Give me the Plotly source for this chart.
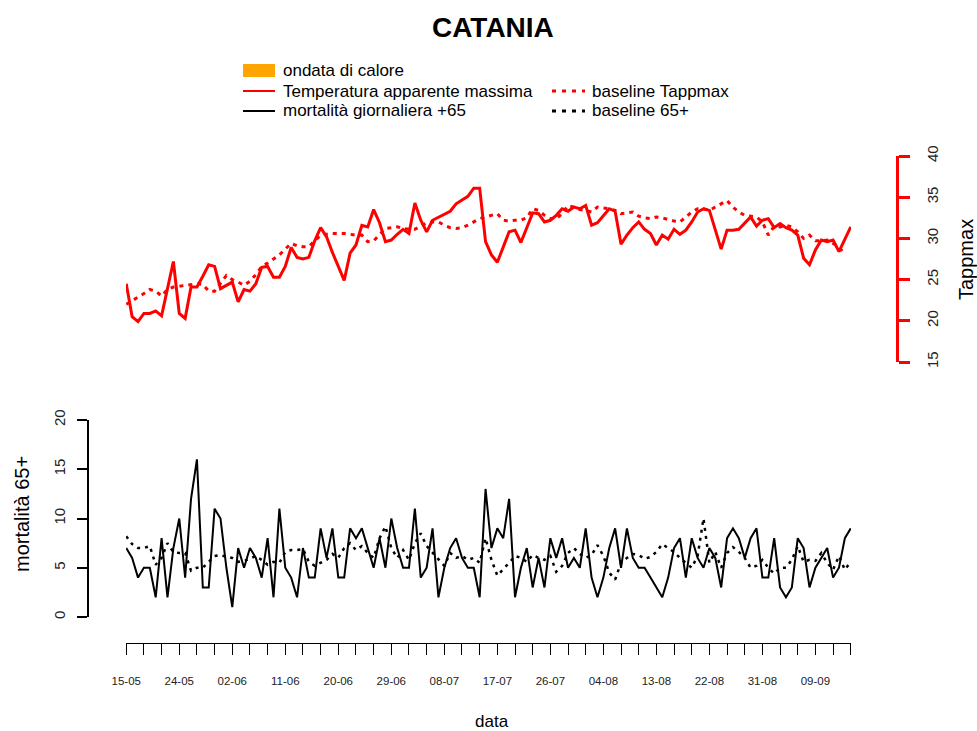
import pandas as pd
import plotly.graph_objects as go

# ---- data -----------------------------------------------------------------
start_date = "2019-05-15"
n_days = 124
dates = pd.date_range(start_date, periods=n_days, freq="D")

tappmax = [
    24.5, 20.5, 19.9, 20.9, 20.9, 21.2, 20.6, 24.0, 27.2, 20.9,
    20.3, 24.1, 24.1, 25.4, 26.8, 26.6, 23.9, 24.3, 24.7, 22.3,
    23.8, 23.6, 24.5, 26.5, 26.6, 25.3, 25.3, 26.6, 28.9, 27.7,
    27.5, 27.7, 29.7, 31.3, 30.2, 28.3, 26.5, 24.9, 28.2, 29.2,
    31.6, 31.4, 33.5, 31.9, 29.6, 29.8, 30.5, 31.1, 30.6, 34.3,
    32.2, 30.8, 32.2, 32.6, 33.0, 33.3, 34.2, 34.7, 35.1, 36.1,
    36.1, 29.6, 28.0, 27.1, 29.0, 30.8, 31.0, 29.5, 31.3, 33.1,
    33.0, 32.0, 32.2, 32.8, 33.6, 33.3, 33.8, 33.6, 34.0, 31.6,
    31.9, 32.7, 33.6, 33.3, 29.3, 30.4, 31.3, 32.0, 31.1, 30.6,
    29.2, 30.4, 29.9, 31.1, 30.5, 31.0, 32.0, 33.2, 33.6, 33.4,
    31.0, 28.7, 31.0, 31.0, 31.1, 31.8, 32.6, 31.5, 32.2, 32.4,
    31.3, 31.8, 31.3, 31.0, 30.4, 27.6, 26.8, 28.6, 29.8, 29.6,
    29.8, 28.4, 30.0, 31.4,
]

baseline_tappmax = [
    22.0, 22.4, 22.9, 23.3, 23.8, 23.6, 23.0, 23.8, 24.1, 24.2,
    24.3, 24.4, 24.5, 24.4, 23.6, 23.6, 24.6, 25.5, 25.0, 24.7,
    24.3, 24.8, 25.6, 26.6, 27.0, 27.5, 28.0, 28.7, 29.4, 29.1,
    29.0, 29.0, 29.7, 30.4, 30.5, 30.6, 30.6, 30.6, 30.5, 30.4,
    30.4, 29.6, 29.7, 30.5, 31.2, 31.3, 31.4, 31.2, 31.1, 31.1,
    31.5, 31.9, 32.0, 32.0, 31.6, 31.3, 31.2, 31.3, 31.6, 32.0,
    32.4, 32.6, 32.8, 33.0, 32.2, 32.1, 32.2, 32.2, 32.5, 33.6,
    33.4, 32.8, 32.4, 32.4, 33.0, 34.0, 33.8, 33.5, 33.4, 33.2,
    33.8, 33.7, 33.6, 33.4, 33.0, 33.1, 33.2, 32.7, 32.5, 32.4,
    32.6, 32.5, 32.3, 32.1, 32.0, 32.6, 33.2, 33.6, 33.6, 33.4,
    33.8, 34.2, 34.6, 33.8, 33.2, 32.8, 32.7, 32.6, 32.0, 30.4,
    31.5, 31.4, 31.6, 31.4, 30.8, 30.0, 30.4, 29.7, 29.7, 29.8,
    29.4, 29.0, 28.0, None,
]

mortality_65 = [
    7, 6, 4, 5, 5, 2, 8, 2, 7, 10,
    4, 12, 16, 3, 3, 11, 10, 5, 1, 7,
    5, 7, 6, 4, 8, 2, 11, 5, 4, 2,
    7, 4, 4, 9, 6, 9, 4, 4, 9, 8,
    9, 7, 5, 8, 5, 10, 7, 5, 5, 11,
    4, 5, 9, 2, 5, 7, 8, 6, 5, 5,
    2, 13, 7, 9, 8, 12, 2, 5, 7, 3,
    6, 3, 8, 6, 8, 5, 6, 5, 9, 4,
    2, 4, 7, 9, 5, 9, 6, 5, 5, 4,
    3, 2, 4, 7, 8, 4, 8, 6, 5, 7,
    6, 3, 8, 9, 8, 6, 8, 9, 4, 4,
    8, 3, 2, 3, 8, 7, 3, 5, 6, 7,
    4, 5, 8, 9,
]

baseline_65 = [
    8.2, 7.4, 7.0, 7.0, 7.2, 5.3, 6.0, 7.5, 6.6, 6.5,
    6.5, 4.7, 5.0, 5.0, 5.6, 6.2, 6.3, 6.1, 6.0, 5.6,
    5.7, 5.9, 6.2, 5.8, 5.3, 5.6, 5.5, 6.6, 6.8, 6.8,
    6.9, 5.6, 5.2, 5.5, 5.8, 6.4, 6.0, 7.0, 7.5, 6.8,
    7.2, 6.5, 6.0, 8.0, 9.2, 7.0, 6.0, 6.8, 5.8, 7.5,
    8.5, 7.2, 6.5, 5.8, 5.2, 6.5, 6.0, 6.2, 5.8, 6.0,
    5.5, 8.0, 5.8, 4.2, 4.8, 5.5, 6.2, 6.0, 5.6, 6.3,
    6.0, 5.8, 6.2, 4.6, 5.2, 6.5, 7.0, 6.4, 6.0, 6.3,
    7.3, 6.2, 4.5, 3.8, 5.5, 6.0, 6.4, 6.3, 5.9, 6.1,
    6.6, 7.4, 7.0, 6.6, 6.0, 5.5, 5.0, 6.2, 10.0, 5.5,
    6.6, 5.0, 6.5, 7.1, 6.6, 6.0, 5.0, 5.2, 5.8, 5.0,
    4.4, 5.0, 5.0, 5.8, 7.2, 5.6, 5.8, 5.7, 6.5, 5.5,
    4.8, 6.2, 4.8, 5.6,
]

tapp_ticks = [15, 20, 25, 30, 35, 40]
mort_ticks = [0, 5, 10, 15, 20]

legend_labels = {
    "heatwave": "ondata di calore",
    "tapp": "Temperatura apparente massima",
    "mort": "mortalità giornaliera +65",
    "tapp_base": "baseline Tappmax",
    "mort_base": "baseline 65+",
}

RED = "#FF0000"
BLACK = "#000000"
ORANGE = "#FFA500"
FONT = "Liberation Sans, Arial, sans-serif"

W, H = 977, 731
DAY_MS = 86400000


def px(x):
    return x / W


def py(y):
    return 1 - y / H


# ---- traces ---------------------------------------------------------------
fig = go.Figure()

fig.add_trace(go.Scatter(x=dates, y=tappmax, mode="lines", xaxis="x", yaxis="y2",
                         line=dict(color=RED, width=3), name=legend_labels["tapp"]))
fig.add_trace(go.Scatter(x=dates, y=baseline_tappmax, mode="lines", xaxis="x", yaxis="y2",
                         line=dict(color=RED, width=3, dash="4px,5px"),
                         name=legend_labels["tapp_base"]))
fig.add_trace(go.Scatter(x=dates, y=mortality_65, mode="lines", xaxis="x", yaxis="y",
                         line=dict(color=BLACK, width=2), name=legend_labels["mort"]))
fig.add_trace(go.Scatter(x=dates, y=baseline_65, mode="lines", xaxis="x", yaxis="y",
                         line=dict(color=BLACK, width=2.5, dash="3px,5px"),
                         name=legend_labels["mort_base"]))

# ---- axes -----------------------------------------------------------------
x_start = dates[0] - pd.Timedelta(hours=1)
x_end = dates[-1] + pd.Timedelta(hours=1)

fig.update_layout(
    xaxis=dict(
        domain=[px(126), px(851)], anchor="free", position=py(643),
        type="date", range=[x_start, x_end], automargin=False,
        showline=True, linecolor=BLACK, linewidth=1,
        ticks="outside", ticklen=11, tickwidth=1, tickcolor=BLACK,
        tick0=dates[0], dtick=9 * DAY_MS, tickformat="%d-%m",
        tickfont=dict(size=11.5, family=FONT, color="#222222"),
        ticklabelstandoff=16,
        minor=dict(tick0=dates[0], dtick=3 * DAY_MS, ticks="outside",
                   ticklen=11, tickwidth=1, tickcolor=BLACK, showgrid=False),
        showgrid=False, zeroline=False,
    ),
    yaxis=dict(
        domain=[py(617), py(420)], range=[0, 20], anchor="free", position=px(88),
        side="left", showline=True, linecolor=BLACK, linewidth=2, automargin=False,
        ticks="outside", ticklen=10, tickwidth=2, tickcolor=BLACK,
        tickvals=mort_ticks, tickangle=-90,
        tickfont=dict(size=15, family=FONT, color="#222222"),
        ticklabelstandoff=6,
        showgrid=False, zeroline=False,
    ),
    yaxis2=dict(
        domain=[py(362), py(156)], range=[15, 40], anchor="free", position=px(897),
        side="right", showline=True, linecolor=RED, linewidth=3, automargin=False,
        ticks="outside", ticklen=11, tickwidth=3, tickcolor=RED,
        tickvals=tapp_ticks, tickangle=-90,
        tickfont=dict(size=15, family=FONT, color="#222222"),
        ticklabelstandoff=10,
        showgrid=False, zeroline=False,
    ),
)

# ---- titles ---------------------------------------------------------------
annotations = [
    dict(text="<b>CATANIA</b>", x=px(493), y=py(27), font=dict(size=28)),
    dict(text="data", x=px(492), y=py(721), font=dict(size=17)),
    dict(text="mortalità 65+", x=px(22), y=py(514), textangle=-90, font=dict(size=20)),
    dict(text="Tappmax", x=px(966), y=py(260), textangle=-90, font=dict(size=20)),
]

# ---- legend (drawn as shapes + text) --------------------------------------
shapes = [
    dict(type="rect", xref="paper", yref="paper", x0=px(243), x1=px(275),
         y0=py(64), y1=py(77), fillcolor=ORANGE, line=dict(width=0)),
    dict(type="line", xref="paper", yref="paper", x0=px(243), x1=px(275),
         y0=py(91), y1=py(91), line=dict(color=RED, width=2)),
    dict(type="line", xref="paper", yref="paper", x0=px(243), x1=px(275),
         y0=py(111), y1=py(111), line=dict(color=BLACK, width=2)),
    dict(type="line", xref="paper", yref="paper", x0=px(552), x1=px(585),
         y0=py(91), y1=py(91), line=dict(color=RED, width=3, dash="4px,6px")),
    dict(type="line", xref="paper", yref="paper", x0=px(552), x1=px(585),
         y0=py(111), y1=py(111), line=dict(color=BLACK, width=3, dash="4px,6px")),
]
legend_text = [
    (legend_labels["heatwave"], 281, 70),
    (legend_labels["tapp"], 281, 91),
    (legend_labels["mort"], 281, 111),
    (legend_labels["tapp_base"], 590, 91),
    (legend_labels["mort_base"], 590, 111),
]
for text, lx, ly in legend_text:
    annotations.append(dict(text=text, x=px(lx), y=py(ly), xanchor="left",
                            font=dict(size=17)))

for a in annotations:
    a.setdefault("xanchor", "center")
    a.update(xref="paper", yref="paper", yanchor="middle", showarrow=False)
    a["font"].update(family=FONT, color=BLACK)

fig.update_layout(
    width=W, height=H, margin=dict(l=0, r=0, t=0, b=0, pad=0, autoexpand=False),
    paper_bgcolor="white", plot_bgcolor="white",
    showlegend=False, annotations=annotations, shapes=shapes,
    font=dict(family=FONT, color=BLACK),
)

fig.write_html("out.html")
